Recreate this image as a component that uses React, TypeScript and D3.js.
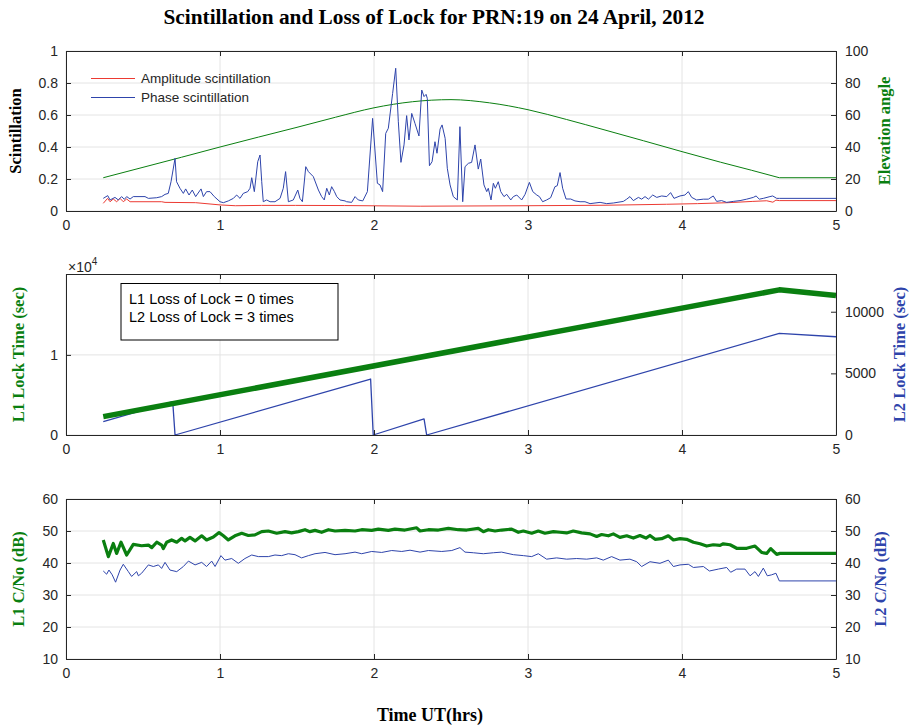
import React, { useEffect, useRef } from 'react';
import * as d3 from 'd3';

const GREEN = '#0a7f10';
const BLUE = '#2e44ab';
const RED = '#ec3a32';
const AXIS = '#262626';
const GRID = '#e4e4e4';
const SANS = '"Liberation Sans", Arial, Helvetica, sans-serif';
const SERIF = '"Liberation Serif", "Times New Roman", serif';

const xTicks = [0, 1, 2, 3, 4, 5];
const scintTicks = [0, 0.2, 0.4, 0.6, 0.8, 1];
const elevTicks = [0, 20, 40, 60, 80, 100];
const l1LockTicks = [0, 10000];
const l2LockTicks = [0, 5000, 10000];
const cnoTicks = [10, 20, 30, 40, 50, 60];

// time (hrs), value
const amplitudeScint = [
  [0.242, 0.048], [0.27, 0.079], [0.286, 0.058], [0.307, 0.075], [0.329, 0.058], [0.351, 0.079],
  [0.372, 0.058], [0.394, 0.075], [0.416, 0.058], [0.448, 0.058], [0.621, 0.058], [0.643, 0.054],
  [0.842, 0.052], [1.0, 0.038], [1.1, 0.033], [1.27, 0.035], [1.49, 0.035], [1.81, 0.034],
  [2.3, 0.03], [3.0, 0.033], [3.5, 0.036], [3.9, 0.042], [4.1, 0.046], [4.3, 0.052],
  [4.46, 0.06], [4.55, 0.064], [4.59, 0.055], [4.61, 0.068], [4.632, 0.065], [5, 0.065],
];

const phaseScint = [
  [0.242, 0.079], [0.271, 0.096], [0.286, 0.069], [0.318, 0.085], [0.34, 0.069], [0.361, 0.09],
  [0.379, 0.073], [0.394, 0.09], [0.416, 0.075], [0.437, 0.09], [0.513, 0.09], [0.535, 0.079],
  [0.589, 0.083], [0.621, 0.09], [0.643, 0.104], [0.664, 0.11], [0.682, 0.183], [0.708, 0.329],
  [0.718, 0.183], [0.74, 0.142], [0.762, 0.11], [0.777, 0.138], [0.799, 0.1], [0.82, 0.131],
  [0.842, 0.09], [0.877, 0.138], [0.892, 0.09], [0.913, 0.121], [0.935, 0.121], [0.963, 0.09],
  [1.0, 0.058], [1.022, 0.052], [1.054, 0.063], [1.087, 0.079], [1.108, 0.1], [1.13, 0.079],
  [1.151, 0.11], [1.18, 0.121], [1.195, 0.142], [1.206, 0.208], [1.223, 0.121], [1.245, 0.308],
  [1.26, 0.35], [1.271, 0.183], [1.281, 0.058], [1.303, 0.069], [1.325, 0.058], [1.357, 0.058],
  [1.39, 0.079], [1.411, 0.142], [1.426, 0.246], [1.444, 0.058], [1.476, 0.069], [1.505, 0.131],
  [1.519, 0.079], [1.535, 0.058], [1.557, 0.277], [1.574, 0.246], [1.606, 0.215], [1.639, 0.131],
  [1.66, 0.09], [1.677, 0.069], [1.693, 0.142], [1.71, 0.1], [1.725, 0.152], [1.743, 0.121],
  [1.758, 0.09], [1.779, 0.069], [1.812, 0.063], [1.822, 0.058], [1.855, 0.054], [1.877, 0.09],
  [1.898, 0.069], [1.927, 0.063], [1.957, 0.121], [1.991, 0.579], [2.022, 0.173], [2.039, 0.163],
  [2.056, 0.121], [2.076, 0.485], [2.093, 0.517], [2.121, 0.735], [2.141, 0.892], [2.158, 0.558],
  [2.175, 0.304], [2.195, 0.413], [2.212, 0.596], [2.227, 0.444], [2.245, 0.61], [2.266, 0.548],
  [2.292, 0.469], [2.31, 0.756], [2.325, 0.715], [2.338, 0.729], [2.346, 0.704], [2.36, 0.283],
  [2.377, 0.308], [2.396, 0.433], [2.409, 0.361], [2.429, 0.512], [2.442, 0.538], [2.462, 0.454],
  [2.476, 0.267], [2.494, 0.163], [2.515, 0.09], [2.541, 0.069], [2.558, 0.527], [2.576, 0.058],
  [2.591, 0.277], [2.613, 0.298], [2.634, 0.304], [2.656, 0.413], [2.677, 0.262], [2.693, 0.325],
  [2.714, 0.163], [2.732, 0.121], [2.742, 0.142], [2.76, 0.069], [2.775, 0.173], [2.788, 0.142],
  [2.807, 0.183], [2.823, 0.121], [2.844, 0.09], [2.862, 0.104], [2.888, 0.069], [2.905, 0.09],
  [2.927, 0.1], [2.959, 0.069], [2.981, 0.104], [3.009, 0.179], [3.031, 0.121], [3.057, 0.1],
  [3.074, 0.09], [3.095, 0.058], [3.121, 0.069], [3.147, 0.083], [3.175, 0.152], [3.19, 0.158],
  [3.208, 0.24], [3.225, 0.142], [3.247, 0.075], [3.277, 0.075], [3.305, 0.063], [3.338, 0.058],
  [3.37, 0.058], [3.403, 0.046], [3.468, 0.054], [3.511, 0.046], [3.554, 0.05], [3.619, 0.06],
  [3.641, 0.074], [3.662, 0.09], [3.684, 0.065], [3.717, 0.085], [3.738, 0.074], [3.76, 0.09],
  [3.782, 0.074], [3.81, 0.1], [3.836, 0.085], [3.868, 0.094], [3.901, 0.09], [3.926, 0.115],
  [3.948, 0.079], [3.987, 0.094], [4.019, 0.1], [4.041, 0.121], [4.063, 0.085], [4.095, 0.069],
  [4.139, 0.074], [4.171, 0.074], [4.203, 0.094], [4.225, 0.06], [4.257, 0.065], [4.29, 0.054],
  [4.333, 0.06], [4.377, 0.065], [4.42, 0.074], [4.463, 0.085], [4.481, 0.094], [4.502, 0.074],
  [4.528, 0.079], [4.571, 0.09], [4.589, 0.094], [4.615, 0.079], [4.632, 0.079], [5, 0.079],
];

// satellite pass (smooth), then held flat after the pass ends
const elevationPass = [
  [0.242, 20.8], [0.5, 27.3], [0.75, 33.6], [1.0, 40], [1.25, 46.2], [1.5, 52.3], [1.75, 58.6],
  [2.0, 64.5], [2.25, 68.3], [2.5, 69.6], [2.75, 67.6], [3.0, 63.3], [3.25, 57.2], [3.5, 50.6],
  [3.75, 43.9], [4.0, 37.1], [4.25, 30.5], [4.45, 25.5], [4.632, 20.8],
];
const elevationHold = [[4.632, 20.8], [5, 20.8]];

const l1Lock = [[0.242, 2290], [4.632, 18120], [5, 17410]];

const l2Lock = [
  [0.242, 1080], [0.693, 2700], [0.708, 0], [1.978, 4540], [1.995, 0], [2.325, 1300],
  [2.342, 0], [4.632, 8240], [5, 7970],
];

const l1Cno = [
  [0.242, 47.2], [0.275, 42.0], [0.307, 46.1], [0.329, 43.0], [0.357, 46.5], [0.394, 42.5],
  [0.437, 45.8], [0.491, 45.4], [0.535, 45.6], [0.557, 44.8], [0.589, 46.5], [0.621, 45.6],
  [0.632, 44.5], [0.654, 46.5], [0.686, 47.2], [0.719, 46.5], [0.751, 47.7], [0.773, 46.9],
  [0.805, 48.0], [0.838, 46.9], [0.881, 48.5], [0.913, 47.2], [0.957, 48.1], [0.994, 49.5],
  [1.022, 48.5], [1.054, 47.2], [1.097, 48.5], [1.141, 49.3], [1.184, 48.6], [1.227, 48.8],
  [1.271, 49.8], [1.314, 50.0], [1.368, 49.3], [1.422, 49.8], [1.465, 49.4], [1.509, 49.8],
  [1.552, 50.4], [1.584, 49.8], [1.617, 50.2], [1.66, 49.6], [1.704, 50.4], [1.747, 50.0],
  [1.812, 50.2], [1.877, 50.0], [1.92, 50.4], [1.985, 50.2], [2.028, 50.6], [2.093, 50.2],
  [2.136, 50.6], [2.201, 50.3], [2.277, 51.0], [2.299, 50.0], [2.353, 50.4], [2.418, 50.3],
  [2.483, 50.8], [2.548, 50.4], [2.602, 50.3], [2.677, 50.8], [2.71, 49.8], [2.742, 50.4],
  [2.786, 50.0], [2.829, 50.3], [2.894, 50.6], [2.937, 49.6], [2.97, 50.0], [3.024, 49.3],
  [3.067, 50.0], [3.11, 49.3], [3.165, 49.8], [3.208, 49.6], [3.251, 49.4], [3.294, 50.0],
  [3.348, 49.4], [3.403, 49.1], [3.446, 48.3], [3.478, 48.9], [3.522, 48.5], [3.554, 49.1],
  [3.597, 48.0], [3.641, 48.5], [3.684, 47.8], [3.727, 48.6], [3.766, 47.8], [3.792, 48.6],
  [3.825, 47.4], [3.868, 47.6], [3.911, 48.5], [3.944, 47.2], [3.987, 47.6], [4.03, 47.4],
  [4.074, 46.5], [4.117, 46.0], [4.16, 45.3], [4.203, 45.7], [4.247, 45.5], [4.268, 46.0],
  [4.312, 45.7], [4.355, 44.6], [4.42, 44.6], [4.474, 45.3], [4.517, 43.3], [4.55, 43.0],
  [4.576, 44.5], [4.615, 42.7], [4.636, 43.0], [5, 43.0],
];

const l2Cno = [
  [0.242, 37.5], [0.264, 36.5], [0.279, 37.8], [0.3, 36.3], [0.322, 34.0], [0.351, 37.8],
  [0.372, 39.6], [0.405, 37.3], [0.426, 35.8], [0.459, 37.3], [0.47, 36.0], [0.491, 36.8],
  [0.535, 39.4], [0.567, 38.9], [0.6, 39.4], [0.621, 38.3], [0.643, 40.2], [0.675, 37.8],
  [0.719, 37.3], [0.762, 38.9], [0.795, 40.6], [0.838, 39.4], [0.881, 40.2], [0.913, 38.9],
  [0.946, 40.6], [0.968, 38.9], [1.006, 42.3], [1.032, 40.9], [1.076, 41.4], [1.119, 39.9],
  [1.162, 41.4], [1.206, 42.5], [1.249, 42.0], [1.314, 42.0], [1.357, 42.5], [1.4, 42.3],
  [1.444, 42.9], [1.487, 42.6], [1.53, 41.6], [1.574, 42.3], [1.617, 42.9], [1.682, 43.3],
  [1.747, 42.6], [1.812, 42.9], [1.877, 43.4], [1.92, 42.9], [1.985, 43.6], [2.05, 43.3],
  [2.115, 43.9], [2.18, 43.6], [2.234, 44.0], [2.299, 43.4], [2.353, 43.9], [2.44, 43.6],
  [2.505, 43.9], [2.558, 44.8], [2.591, 43.4], [2.645, 43.2], [2.71, 42.9], [2.775, 43.2],
  [2.829, 43.4], [2.905, 42.6], [2.97, 42.3], [3.024, 42.0], [3.067, 42.9], [3.121, 41.2],
  [3.186, 41.6], [3.251, 41.2], [3.316, 41.4], [3.381, 41.2], [3.446, 41.6], [3.489, 40.9],
  [3.543, 42.0], [3.597, 40.9], [3.662, 41.2], [3.706, 40.4], [3.738, 38.9], [3.792, 40.4],
  [3.857, 39.9], [3.911, 40.9], [3.944, 38.9], [3.987, 39.4], [4.041, 39.6], [4.074, 38.6],
  [4.139, 38.9], [4.178, 37.5], [4.236, 38.1], [4.29, 38.6], [4.316, 37.1], [4.355, 38.1],
  [4.409, 38.1], [4.442, 36.0], [4.474, 37.3], [4.496, 35.8], [4.528, 38.4], [4.554, 36.0],
  [4.582, 36.3], [4.61, 36.8], [4.632, 34.4], [5, 34.4],
];

const X0 = 66;
const X1 = 836;

const App = () => {
  const svgRef = useRef(null);

  useEffect(() => {
    const svg = d3.select(svgRef.current);
    svg.selectAll('*').remove();

    const x = d3.scaleLinear().domain([0, 5]).range([X0, X1]);

    const grid = (top, bottom, yL, yTicks) => {
      const g = svg.append('g');
      g.selectAll('line.gx').data(xTicks).enter().append('line')
        .attr('x1', d => x(d)).attr('x2', d => x(d))
        .attr('y1', top).attr('y2', bottom)
        .attr('stroke', GRID).attr('stroke-width', 1);
      g.selectAll('line.gy').data(yTicks).enter().append('line')
        .attr('x1', X0).attr('x2', X1)
        .attr('y1', d => yL(d)).attr('y2', d => yL(d))
        .attr('stroke', GRID).attr('stroke-width', 1);
    };

    const series = (data, y, color, width, curve = d3.curveLinear) => {
      const line = d3.line().curve(curve).x(d => x(d[0])).y(d => y(d[1]));
      svg.append('path')
        .datum(data)
        .attr('d', line)
        .attr('fill', 'none')
        .attr('stroke', color)
        .attr('stroke-width', width)
        .attr('stroke-linejoin', 'round');
    };

    const frame = (top, bottom, yL, yR, lTicks, rTicks, lFmt, rFmt) => {
      const styleAxis = (g) => {
        g.select('.domain').attr('stroke', AXIS);
        g.selectAll('.tick line').attr('stroke', AXIS);
        g.selectAll('.tick text')
          .attr('fill', AXIS)
          .style('font-family', SANS)
          .style('font-size', '14px');
      };
      svg.append('g')
        .attr('transform', `translate(0,${bottom})`)
        .call(d3.axisBottom(x).tickValues(xTicks).tickSizeInner(-5).tickSizeOuter(0).tickPadding(9)
          .tickFormat(d3.format('d')))
        .call(styleAxis);
      svg.append('g')
        .attr('transform', `translate(0,${top})`)
        .call(d3.axisTop(x).tickValues(xTicks).tickSizeInner(-5).tickSizeOuter(0).tickFormat(() => ''))
        .call(styleAxis);
      svg.append('g')
        .attr('transform', `translate(${X0},0)`)
        .call(d3.axisLeft(yL).tickValues(lTicks).tickSizeInner(-5).tickSizeOuter(0).tickPadding(8)
          .tickFormat(lFmt))
        .call(styleAxis);
      svg.append('g')
        .attr('transform', `translate(${X1},0)`)
        .call(d3.axisRight(yR).tickValues(rTicks).tickSizeInner(-5).tickSizeOuter(0).tickPadding(9)
          .tickFormat(rFmt))
        .call(styleAxis);
    };

    const yLabel = (text, xPos, top, bottom, color) => {
      svg.append('text')
        .attr('transform', `translate(${xPos},${(top + bottom) / 2}) rotate(-90)`)
        .attr('text-anchor', 'middle')
        .attr('dy', '0.35em')
        .attr('fill', color)
        .style('font-family', SERIF)
        .style('font-weight', 'bold')
        .style('font-size', '16.5px')
        .text(text);
    };

    // title
    svg.append('text')
      .attr('x', 434).attr('y', 24)
      .attr('text-anchor', 'middle')
      .attr('fill', '#000')
      .style('font-family', SERIF)
      .style('font-weight', 'bold')
      .style('font-size', '21.3px')
      .text('Scintillation and Loss of Lock for PRN:19 on 24 April, 2012');

    // ---- panel 1: scintillation / elevation
    const p1 = { top: 51, bottom: 211 };
    const y1L = d3.scaleLinear().domain([0, 1]).range([p1.bottom, p1.top]);
    const y1R = d3.scaleLinear().domain([0, 100]).range([p1.bottom, p1.top]);
    grid(p1.top, p1.bottom, y1L, scintTicks);
    series(elevationPass, y1R, GREEN, 1, d3.curveMonotoneX);
    series(elevationHold, y1R, GREEN, 1);
    series(amplitudeScint, y1L, RED, 1);
    series(phaseScint, y1L, BLUE, 1);
    frame(p1.top, p1.bottom, y1L, y1R, scintTicks, elevTicks, d => (d === 0 || d === 1 ? d3.format('d')(d) : d3.format('.1f')(d)), d3.format('d'));
    yLabel('Scintillation', 15, p1.top, p1.bottom, '#000');
    yLabel('Elevation angle', 884, p1.top, p1.bottom, GREEN);

    // legend
    const legend = [
      { label: 'Amplitude scintillation', color: RED },
      { label: 'Phase scintillation', color: BLUE },
    ];
    const lg = svg.append('g');
    legend.forEach((d, i) => {
      const ly = 78.5 + i * 19;
      lg.append('line').attr('x1', 91).attr('x2', 135).attr('y1', ly).attr('y2', ly)
        .attr('stroke', d.color).attr('stroke-width', 1);
      lg.append('text').attr('x', 141).attr('y', ly).attr('dy', '0.35em')
        .attr('fill', AXIS)
        .style('font-family', SANS).style('font-size', '13.5px')
        .text(d.label);
    });

    // ---- panel 2: lock time
    const p2 = { top: 274, bottom: 435 };
    const y2L = d3.scaleLinear().domain([0, 20100]).range([p2.bottom, p2.top]);
    const y2R = d3.scaleLinear().domain([0, 13060]).range([p2.bottom, p2.top]);
    grid(p2.top, p2.bottom, y2L, l1LockTicks);
    series(l2Lock, y2R, BLUE, 1.3);
    series(l1Lock, y2L, GREEN, 5.5);
    frame(p2.top, p2.bottom, y2L, y2R, l1LockTicks, l2LockTicks, d => d3.format('d')(d / 10000), d3.format('d'));
    yLabel('L1 Lock Time (sec)', 18, p2.top, p2.bottom, GREEN);
    yLabel('L2 Lock Time (sec)', 899, p2.top, p2.bottom, BLUE);

    const exp = svg.append('text').attr('x', 68).attr('y', 271.5)
      .attr('fill', AXIS).style('font-family', SANS).style('font-size', '14px');
    exp.append('tspan').text('\u00d710');
    exp.append('tspan').attr('dy', -7).style('font-size', '10px').text('4');

    svg.append('rect')
      .attr('x', 121).attr('y', 283.5).attr('width', 217).attr('height', 56.5)
      .attr('fill', '#fff').attr('stroke', '#000').attr('stroke-width', 1);
    ['L1 Loss of Lock = 0 times', 'L2 Loss of Lock = 3 times'].forEach((t, i) => {
      svg.append('text').attr('x', 129).attr('y', 303.5 + i * 18.5)
        .attr('fill', '#000')
        .style('font-family', SANS).style('font-size', '14.5px')
        .text(t);
    });

    // ---- panel 3: C/No
    const p3 = { top: 499, bottom: 659 };
    const y3L = d3.scaleLinear().domain([10, 60]).range([p3.bottom, p3.top]);
    const y3R = d3.scaleLinear().domain([10, 60]).range([p3.bottom, p3.top]);
    grid(p3.top, p3.bottom, y3L, cnoTicks);
    series(l2Cno, y3R, BLUE, 1);
    series(l1Cno, y3L, GREEN, 3.2);
    frame(p3.top, p3.bottom, y3L, y3R, cnoTicks, cnoTicks, d3.format('d'), d3.format('d'));
    yLabel('L1 C/No (dB)', 18, p3.top, p3.bottom, GREEN);
    yLabel('L2 C/No (dB)', 880, p3.top, p3.bottom, BLUE);

    svg.append('text')
      .attr('x', 430).attr('y', 721)
      .attr('text-anchor', 'middle')
      .attr('fill', '#000')
      .style('font-family', SERIF)
      .style('font-weight', 'bold')
      .style('font-size', '18px')
      .text('Time UT(hrs)');
  }, []);

  return (
    <svg
      ref={svgRef}
      width={909}
      height={726}
      style={{ position: 'absolute', left: 0, top: 0, background: '#fff' }}
    />
  );
};

export default App;
